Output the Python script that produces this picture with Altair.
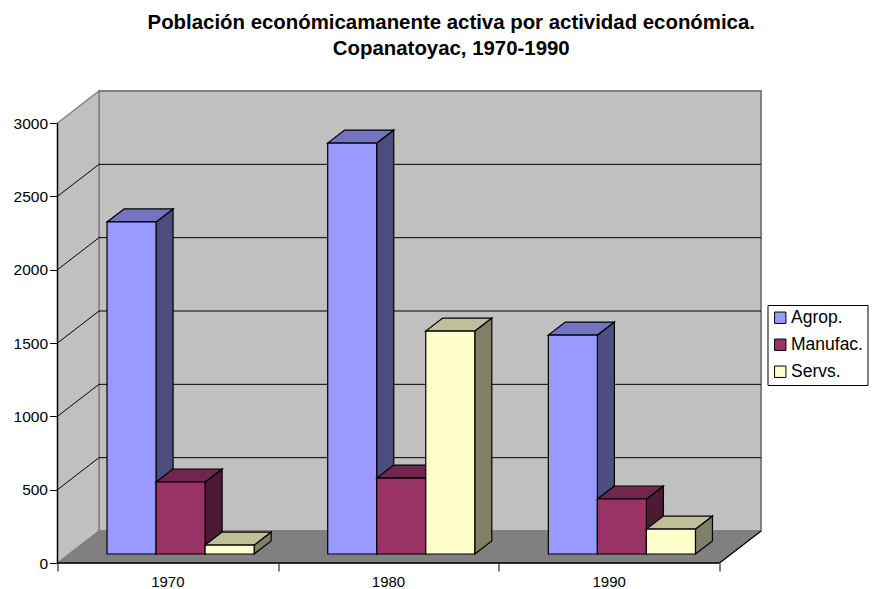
import altair as alt
import pandas as pd

# ---- data ----
categories = ["1970", "1980", "1990"]
series = ["Agrop.", "Manufac.", "Servs."]
agrop = [2264, 2802, 1493]
manufac = [491, 518, 375]
servs = [61, 1520, 170]
ticks_y = [0, 500, 1000, 1500, 2000, 2500, 3000]
ticks_x = [0, 1, 2, 3]
front_colors = ["#9999FF", "#993366", "#FFFFCC"]
side_colors = ["#4D4D80", "#4D1A33", "#808066"]
top_colors = ["#7373BF", "#73264D", "#BFBF99"]
values = [agrop, manufac, servs]

# ---- projection in data units (x: categories, y: value) ----
Y_MAX = 3000
PX_X = 220.5            # px per category
PX_Y = 440 / Y_MAX      # px per value unit
WALL_DX = 41.5 / PX_X
WALL_DY = 32 / PX_Y
BAR_W = 49 / PX_X
BAR_START = 49.5 / PX_X
BAR_DEPTH0 = 9 / PX_Y
BAR_DX = 17 / PX_X
BAR_DY = 13 / PX_Y
X_TOP = 3 + WALL_DX
Y_TOP = Y_MAX + WALL_DY

xs = alt.Scale(domain=[0, X_TOP], nice=False, zero=False)
ys = alt.Scale(domain=[0, Y_TOP], nice=False, zero=False)

x_axis = alt.Axis(values=ticks_x, labels=False, domain=False, grid=False,
                  tickSize=8, tickColor="black", title=None)
y_axis = alt.Axis(values=ticks_y, format="d", domain=False, grid=False, tickSize=8,
                  tickColor="black", labelFontSize=15.5, labelColor="black",
                  labelFont="Liberation Sans", labelPadding=2, title=None)


def X(f="x"):
    return alt.X(f"{f}:Q", scale=xs, axis=x_axis)


def Y(f="y"):
    return alt.Y(f"{f}:Q", scale=ys, axis=y_axis, stack=None)


layers = []

# back wall
layers.append(
    alt.Chart(pd.DataFrame({"x": [WALL_DX], "x2": [X_TOP], "y": [WALL_DY], "y2": [Y_TOP]}))
    .mark_rect(fill="#C0C0C0", stroke="#808080", strokeWidth=2)
    .encode(x=X(), x2="x2:Q", y=Y(), y2="y2:Q")
)
# side wall
layers.append(
    alt.Chart(pd.DataFrame({"x": [0, WALL_DX], "y": [0, WALL_DY],
                            "y2": [Y_MAX, Y_TOP]}))
    .mark_area(fill="#C0C0C0", stroke="#808080", strokeWidth=1.5)
    .encode(x=X(), y=Y(), y2="y2:Q")
)
# floor
layers.append(
    alt.Chart(pd.DataFrame({"y": [0, WALL_DY], "x": [0, WALL_DX], "x2": [3, X_TOP]}))
    .mark_area(fill="#808080", orient="horizontal", stroke="#808080", strokeWidth=1)
    .encode(y=Y(), x=X(), x2="x2:Q")
)
# gridlines
grid_rows = []
for v in ticks_y[1:-1]:
    grid_rows.append({"x": WALL_DX, "x2": X_TOP, "y": v + WALL_DY, "y2": v + WALL_DY})
    grid_rows.append({"x": 0, "x2": WALL_DX, "y": v, "y2": v + WALL_DY})
layers.append(
    alt.Chart(pd.DataFrame(grid_rows)).mark_rule(color="black", strokeWidth=1)
    .encode(x=X(), x2="x2:Q", y=Y(), y2="y2:Q")
)
# axis lines
axis_rows = [
    {"x": 0, "x2": 0, "y": 0, "y2": Y_MAX},
    {"x": 0, "x2": 3, "y": 0, "y2": 0},
    {"x": 3, "x2": X_TOP, "y": 0, "y2": WALL_DY},
]
layers.append(
    alt.Chart(pd.DataFrame(axis_rows)).mark_rule(color="black", strokeWidth=1.3)
    .encode(x=X(), x2="x2:Q", y=Y(), y2="y2:Q")
)

# bars, painted series by series so that each hides the side of the previous one
color_scale = alt.Scale(domain=series, range=front_colors)
for s, name in enumerate(series):
    side_rows, top_rows, front_rows = [], [], []
    for c, cat in enumerate(categories):
        v = values[s][c]
        left = c + BAR_START + s * BAR_W
        right = left + BAR_W
        base = BAR_DEPTH0
        top = base + v
        side_rows += [
            {"id": c, "x": right, "y": base, "y2": top},
            {"id": c, "x": right + BAR_DX, "y": base + BAR_DY, "y2": top + BAR_DY},
        ]
        top_rows += [
            {"id": c, "y": top, "x": left, "x2": right},
            {"id": c, "y": top + BAR_DY, "x": left + BAR_DX, "x2": right + BAR_DX},
        ]
        front_rows.append({"serie": name, "x": left, "x2": right, "y": base, "y2": top})
    layers.append(
        alt.Chart(pd.DataFrame(side_rows))
        .mark_area(fill=side_colors[s], stroke="black", strokeWidth=1.2)
        .encode(x=X(), y=Y(), y2="y2:Q", detail="id:N")
    )
    layers.append(
        alt.Chart(pd.DataFrame(top_rows))
        .mark_area(fill=top_colors[s], stroke="black", strokeWidth=1.2, orient="horizontal")
        .encode(y=Y(), x=X(), x2="x2:Q", detail="id:N")
    )
    layers.append(
        alt.Chart(pd.DataFrame(front_rows))
        .mark_rect(stroke="black", strokeWidth=1.2, opacity=1)
        .encode(
            x=X(), x2="x2:Q", y=Y(), y2="y2:Q",
            color=alt.Color(
                "serie:N", scale=color_scale, sort=series, title=None,
                legend=alt.Legend(
                    orient="none", legendX=710, legendY=214, title=None,
                    fillColor="white", strokeColor="black", padding=4,
                    symbolType="square", symbolSize=130, symbolStrokeColor="black",
                    symbolStrokeWidth=1, symbolOpacity=1,
                    labelFont="Liberation Sans", labelFontSize=17.5, labelColor="black",
                    labelOffset=2, rowPadding=8, labelLimit=120,
                ),
            ),
        )
    )

# category labels
layers.append(
    alt.Chart(pd.DataFrame({"cat": categories, "x": [0.5, 1.5, 2.5], "y": [0, 0, 0]}))
    .mark_text(font="Liberation Sans", fontSize=15, color="black", dy=19)
    .encode(x=X(), y=Y(), text="cat:N")
)

chart = alt.layer(*layers).properties(
    width=703.5,
    height=472,
    title=alt.TitleParams(
        ["Población económicamanente activa por actividad económica.",
         "Copanatoyac, 1970-1990"],
        font="Liberation Sans", fontSize=20.4, fontWeight="bold", color="black",
        anchor="middle", dx=42, offset=29, lineHeight=26,
    ),
    autosize=alt.AutoSizeParams(type="none"),
    padding={"left": 49.5, "top": 83, "right": 108, "bottom": 27},
).configure_view(stroke=None).configure_axis(tickWidth=1)

chart.save("out.html", embed_options={"renderer": "svg", "actions": False})
